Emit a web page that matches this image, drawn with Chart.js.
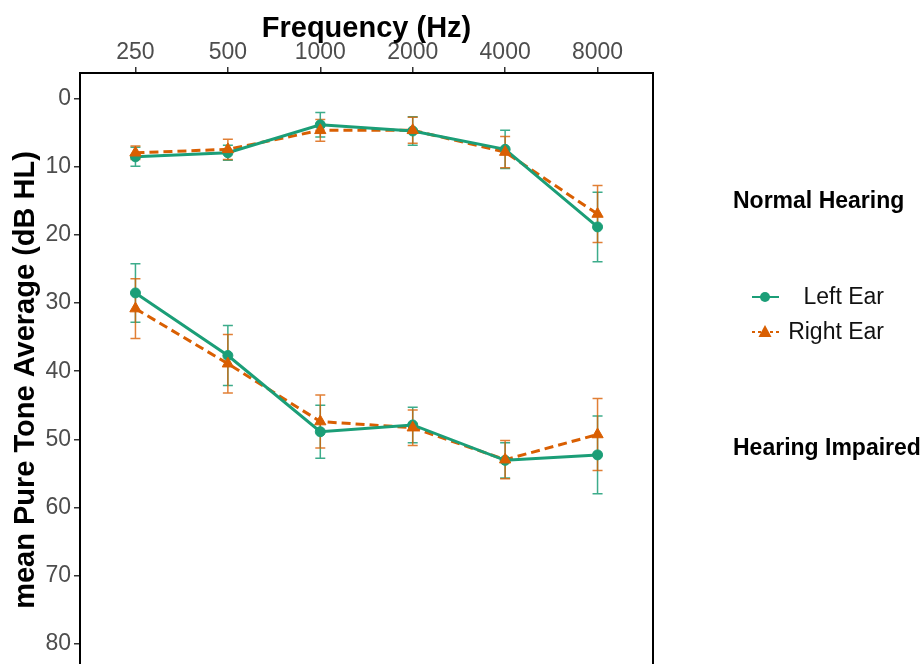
<!DOCTYPE html>
<html>
<head>
<meta charset="utf-8">
<script src="https://cdn.jsdelivr.net/npm/chart.js@4.4.1/dist/chart.umd.min.js"></script>
<style>
  body { margin: 0; background: #fff; overflow: hidden; }
  #wrap { width: 924px; height: 672px; position: relative; }
</style>
</head>
<body>
<div id="wrap"><canvas id="chart-pta"></canvas></div>
<script>
const freqLabels = ["250", "500", "1000", "2000", "4000", "8000"];
const yTicks = [0, 10, 20, 30, 40, 50, 60, 70, 80];

const leftNormal = [8.5, 7.9, 3.8, 4.7, 7.4, 18.8];
const leftNormalErr = [1.4, 1.1, 1.8, 2.1, 2.8, 5.1];
const rightNormal = [7.9, 7.4, 4.6, 4.6, 7.8, 16.9];
const rightNormalErr = [1.0, 1.5, 1.6, 1.9, 2.3, 4.2];
const leftImpaired = [28.5, 37.7, 48.9, 47.9, 53.1, 52.3];
const leftImpairedErr = [4.3, 4.4, 3.9, 2.6, 2.6, 5.7];
const rightImpaired = [30.8, 38.9, 47.4, 48.3, 53.0, 49.3];
const rightImpairedErr = [4.4, 4.3, 3.9, 2.6, 2.8, 5.3];

const GREEN = "#1b9e77";
const ORANGE = "#d95f02";
const FONT = "'Liberation Sans', Arial, sans-serif";

const toXY = (arr) => arr.map((v, i) => ({ x: i, y: v }));

const lineSet = (label, data, color, dash, order) => ({
    label, data: toXY(data), borderColor: color, borderWidth: 3,
    borderDash: dash, pointRadius: 0, fill: false, tension: 0, order,
});
const pointSet = (label, data, color, style, radius, order) => ({
    label, data: toXY(data), showLine: false, pointStyle: style,
    pointRadius: radius, pointBackgroundColor: color, pointBorderColor: color,
    pointBorderWidth: 1, order,
});

const errorSets = [
    { means: leftNormal, errs: leftNormalErr, color: "rgba(27,158,119,0.85)" },
    { means: leftImpaired, errs: leftImpairedErr, color: "rgba(27,158,119,0.85)" },
    { means: rightNormal, errs: rightNormalErr, color: "rgba(217,95,2,0.8)" },
    { means: rightImpaired, errs: rightImpairedErr, color: "rgba(217,95,2,0.8)" },
];

// error bars, drawn below the lines
const errorBars = {
    id: "errorBars",
    beforeDatasetsDraw(chart) {
        const { ctx, scales: { x, y } } = chart;
        ctx.save();
        ctx.lineWidth = 1.5;
        errorSets.forEach((s) => {
            ctx.strokeStyle = s.color;
            s.means.forEach((m, i) => {
                const px = x.getPixelForValue(i);
                const top = y.getPixelForValue(m - s.errs[i]);
                const bot = y.getPixelForValue(m + s.errs[i]);
                ctx.beginPath();
                ctx.moveTo(px, top); ctx.lineTo(px, bot);
                ctx.moveTo(px - 5, top); ctx.lineTo(px + 5, top);
                ctx.moveTo(px - 5, bot); ctx.lineTo(px + 5, bot);
                ctx.stroke();
            });
        });
        ctx.restore();
    },
};

// panel border, titles, group labels and legend
const decorations = {
    id: "decorations",
    afterDraw(chart) {
        const { ctx, chartArea: a } = chart;
        ctx.save();
        ctx.strokeStyle = "#000";
        ctx.lineWidth = 2;
        ctx.beginPath();
        ctx.moveTo(a.left, a.bottom + 10);
        ctx.lineTo(a.left, a.top);
        ctx.lineTo(a.right, a.top);
        ctx.lineTo(a.right, a.bottom + 10);
        ctx.stroke();

        ctx.fillStyle = "#000";
        ctx.font = `bold 29px ${FONT}`;
        ctx.textAlign = "center";
        ctx.textBaseline = "middle";
        ctx.fillText("Frequency (Hz)", (a.left + a.right) / 2, 29);

        ctx.save();
        ctx.translate(26, 380);
        ctx.rotate(-Math.PI / 2);
        ctx.fillText("mean Pure Tone Average (dB HL)", 0, 0);
        ctx.restore();

        ctx.font = `bold 23px ${FONT}`;
        ctx.textAlign = "left";
        ctx.fillText("Normal Hearing", 733, 202);
        ctx.fillText("Hearing Impaired", 733, 449);

        // legend keys
        ctx.lineWidth = 2;
        ctx.strokeStyle = GREEN;
        ctx.beginPath(); ctx.moveTo(752, 297); ctx.lineTo(779, 297); ctx.stroke();
        ctx.fillStyle = GREEN;
        ctx.beginPath(); ctx.arc(765, 297, 5, 0, Math.PI * 2); ctx.fill();

        ctx.strokeStyle = ORANGE;
        ctx.setLineDash([3, 3]);
        ctx.beginPath(); ctx.moveTo(752, 332); ctx.lineTo(781, 332); ctx.stroke();
        ctx.setLineDash([]);
        ctx.fillStyle = ORANGE;
        ctx.beginPath();
        ctx.moveTo(765, 325); ctx.lineTo(771.5, 337); ctx.lineTo(758.5, 337);
        ctx.closePath(); ctx.fill();

        ctx.fillStyle = "#111";
        ctx.font = `23px ${FONT}`;
        ctx.textAlign = "right";
        ctx.fillText("Left Ear", 884, 298);
        ctx.fillText("Right Ear", 884, 333);
        ctx.restore();
    },
};

const ctx = document.getElementById("chart-pta").getContext("2d");
new Chart(ctx, {
    type: "line",
    data: {
        datasets: [
            pointSet("Right Ear", rightNormal, ORANGE, "triangle", 6.5, 0),
            pointSet("Right Ear", rightImpaired, ORANGE, "triangle", 6.5, 0),
            pointSet("Left Ear", leftNormal, GREEN, "circle", 5, 1),
            pointSet("Left Ear", leftImpaired, GREEN, "circle", 5, 1),
            lineSet("Left Ear", leftNormal, GREEN, [], 2),
            lineSet("Left Ear", leftImpaired, GREEN, [], 2),
            lineSet("Right Ear", rightNormal, ORANGE, [9, 5], 3),
            lineSet("Right Ear", rightImpaired, ORANGE, [9, 5], 3),
        ],
    },
    options: {
        responsive: true,
        maintainAspectRatio: false,
        animation: false,
        layout: { padding: { left: 0, right: 271, top: 0, bottom: 0 } },
        plugins: { legend: { display: false }, tooltip: { enabled: false } },
        scales: {
            x: {
                type: "linear",
                position: "top",
                min: -0.6,
                max: 5.6,
                afterBuildTicks: (scale) => {
                    scale.ticks = freqLabels.map((_, i) => ({ value: i }));
                },
                afterFit: (scale) => {
                    scale.height = 73;
                    scale.paddingLeft = 0;
                    scale.paddingRight = 0;
                },
                ticks: {
                    callback: (v) => freqLabels[v],
                    font: { family: FONT, size: 23 },
                    color: "#4d4d4d",
                    padding: 1,
                    maxRotation: 0,
                },
                grid: { drawOnChartArea: false, drawTicks: true, tickLength: 6, color: "#333", lineWidth: 1.5 },
                border: { display: true, color: "#000", width: 2 },
            },
            y: {
                type: "linear",
                reverse: true,
                min: -3.82,
                max: 83.1,
                afterBuildTicks: (scale) => {
                    scale.ticks = yTicks.map((v) => ({ value: v }));
                },
                afterFit: (scale) => {
                    scale.width = 80;
                    scale.paddingTop = 0;
                    scale.paddingBottom = 0;
                },
                ticks: {
                    font: { family: FONT, size: 23 },
                    color: "#4d4d4d",
                    padding: 3,
                },
                grid: { drawOnChartArea: false, drawTicks: true, tickLength: 6, color: "#333", lineWidth: 1.5 },
                border: { display: true, color: "#000", width: 2 },
            },
        },
    },
    plugins: [errorBars, decorations],
});
</script>
</body>
</html>
